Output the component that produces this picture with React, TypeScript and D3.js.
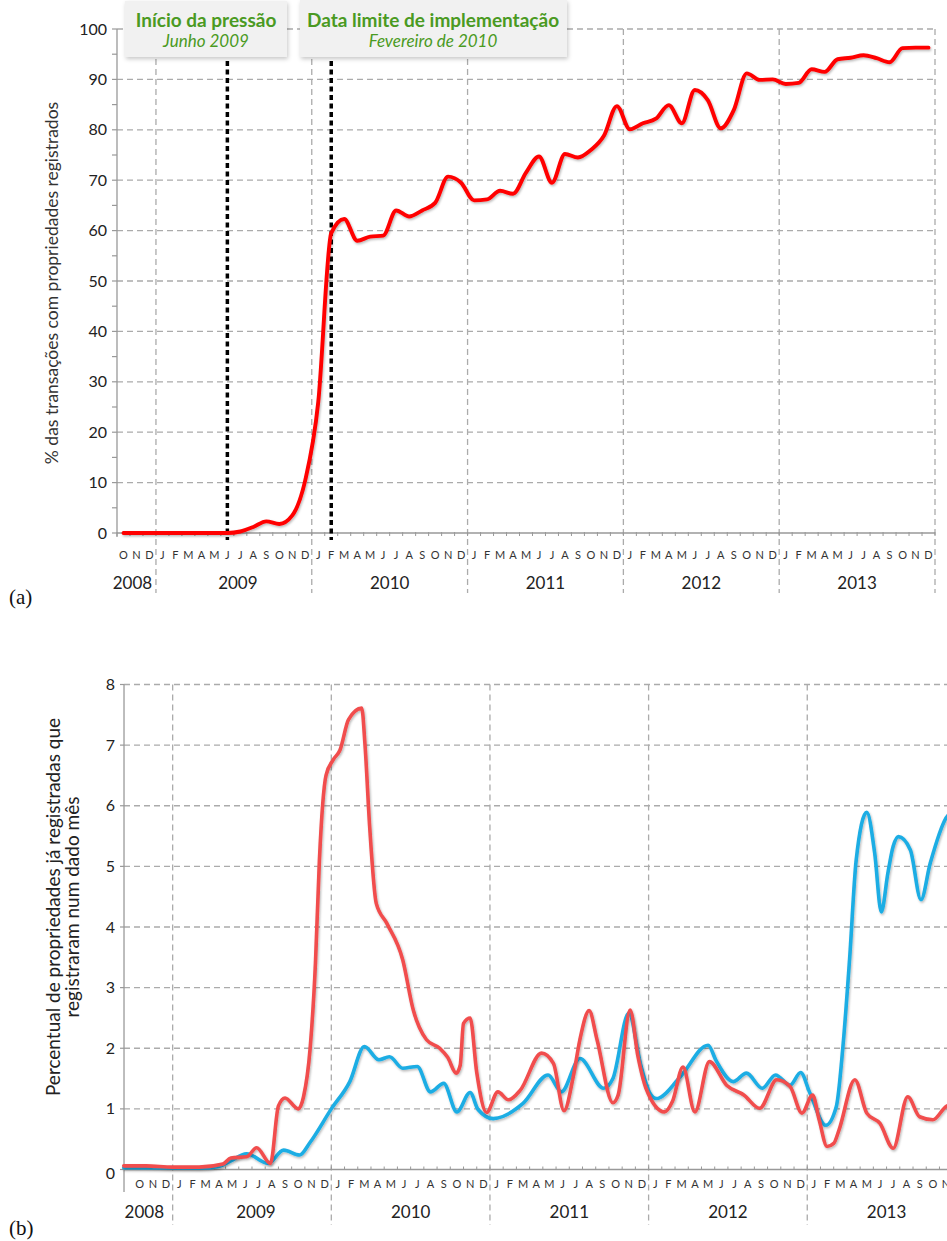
import React from 'react';
import * as d3 from 'd3';

// ---------- shared labels ----------
const monthLetters = ['J', 'F', 'M', 'A', 'M', 'J', 'J', 'A', 'S', 'O', 'N', 'D'];
const yearLabels = ['2008', '2009', '2010', '2011', '2012', '2013'];
// months since 1 Oct 2008 where each year starts / ends
const yearStarts = [0, 3, 15, 27, 39, 51];
const yearEnds = [3, 15, 27, 39, 51, 63];
const monthCount = 63;

// ---------- chart (a) ----------
const topTicks = [0, 10, 20, 30, 40, 50, 60, 70, 80, 90, 100];
// monthly, Oct 2008 .. Dec 2013
const topValues = [
  0, 0, 0,
  0, 0, 0, 0, 0, 0, 0.3, 1.2, 2.3, 1.8, 3.5, 10.5,
  26, 59.5, 62.3, 58, 58.8, 59, 64, 62.8, 64, 65.5, 70.7, 69.5,
  66, 66.2, 67.9, 67.3, 71.5, 74.7, 69.5, 75.2, 74.5, 76, 78.8, 84.7,
  80.1, 81.3, 82.2, 84.9, 81.3, 87.9, 85.9, 80.3, 83.9, 91.2, 89.9, 90,
  89.1, 89.3, 92, 91.5, 94, 94.3, 94.8, 94.2, 93.4, 96.2, 96.3, 96.3,
];
const markerTitles = ['Início da pressão', 'Data limite de implementação'];
const markerSubs = ['Junho 2009', 'Fevereiro de 2010'];
const markerMonths = [8, 16];

// ---------- chart (b) ----------
const botTicks = [0, 1, 2, 3, 4, 5, 6, 7, 8];
const redT = [
  -0.7, 1, 3, 5, 6.8, 7.4, 8.6, 9.35, 10.4, 11, 11.5, 12.5, 12.9, 13.4, 13.8, 14.1, 14.6,
  15.15, 15.66, 16.3, 17.3, 17.55, 17.9, 18.4, 19.2, 20.4, 21.2, 22.2, 23.2, 23.8, 24.45,
  24.75, 25, 25.5, 26, 26.75, 27.6, 28.4, 29.3, 30.9, 31.8, 32.6, 33.3, 33.8, 34.5, 35.1,
  36.3, 36.7, 37.6, 38.2, 38.8, 40.2, 40.8, 41.6, 42.5, 43.6, 44.9, 46.2, 47.4, 48.7, 49.7,
  50.6, 51.4, 51.9, 52.5, 53, 53.4, 54.6, 55.5, 56.5, 57.5, 58.6, 59.5, 60.5, 61.5, 62.3,
];
const redV = [
  0.06, 0.06, 0.04, 0.04, 0.09, 0.19, 0.21, 0.36, 0.1, 1.05, 1.18, 1.0, 1.2, 2.0, 3.4, 5.1, 6.5,
  6.76, 6.92, 7.42, 7.61, 7.0, 5.66, 4.39, 4.06, 3.46, 2.63, 2.14, 2.0, 1.85, 1.59,
  1.72, 2.41, 2.5, 1.6, 0.94, 1.28, 1.15, 1.31, 1.92, 1.75, 0.97, 1.53, 2.14, 2.62, 2.14,
  1.1, 1.23, 2.63, 1.86, 1.34, 0.95, 1.12, 1.69, 0.95, 1.78, 1.39, 1.23, 1.01, 1.48, 1.37,
  0.93, 1.23, 0.82, 0.38, 0.43, 0.65, 1.48, 0.93, 0.76, 0.35, 1.2, 0.87, 0.82, 1.04, 1.1,
];
const blueT = [
  -0.7, 5, 6.5, 7.3, 8.6, 10.2, 11.4, 12.6, 13.4, 15, 16.4, 17.5, 18.6, 19.4, 20.4, 21.5,
  22.5, 23.5, 24.5, 25.5, 26.1, 27.25, 29.5, 31.4, 32.4, 33.8, 35.6, 36.3, 37.5, 38.4, 39.1,
  39.6, 41.4, 43.5, 44.1, 45.4, 46.4, 47.6, 48.6, 49.7, 50.5, 51.2, 52.4, 53.2, 53.7, 54.2,
  54.7, 55.5, 56.1, 56.6, 57.1, 57.5, 57.9, 58.8, 59.6, 60.3, 61.5, 62.3,
];
const blueV = [
  0.03, 0.02, 0.05, 0.13, 0.26, 0.1, 0.32, 0.24, 0.45, 1.0, 1.45, 2.03, 1.81, 1.86, 1.67, 1.7,
  1.28, 1.42, 0.95, 1.27, 0.99, 0.84, 1.09, 1.56, 1.28, 1.83, 1.34, 1.5, 2.58, 1.73, 1.26,
  1.17, 1.53, 2.05, 1.8, 1.45, 1.59, 1.34, 1.56, 1.39, 1.6, 1.26, 0.73, 1.04, 2.03, 3.46,
  5.1, 5.89, 5.22, 4.25, 4.89, 5.33, 5.49, 5.27, 4.45, 5.05, 5.8, 5.95,
];

const FONT = "Lato, 'Open Sans', sans-serif";
const GRID = '#ababab';
const GREEN = '#4a9a22';

export default function App() {
  const W = 947;
  const H = 1241;

  const xTop = d3.scaleLinear().domain([0, monthCount]).range([117, 935]);
  const yTop = d3.scaleLinear().domain([0, 100]).range([533, 29]);
  const xBot = d3.scaleLinear().domain([0, monthCount]).range([133, 965.9]);
  const yBot = d3.scaleLinear().domain([0, 8]).range([1169.5, 684.5]);

  const topLine = d3
    .line<number>()
    .x((_, i) => xTop(i + 0.5))
    .y((d) => yTop(d))
    .curve(d3.curveMonotoneX);

  const botLine = d3
    .line<[number, number]>()
    .x((d) => xBot(d[0]))
    .y((d) => yBot(d[1]))
    .curve(d3.curveMonotoneX);

  const redPts: [number, number][] = redT.map((t, i) => [t, redV[i]]);
  const bluePts: [number, number][] = blueT.map((t, i) => [t, blueV[i]]);

  const months = d3.range(monthCount);
  const boundaries = d3.range(monthCount + 1);
  const minorTop = d3.range(0, 101, 5);

  const topAxisX = xTop(0);
  const botAxisX = xBot(-0.68);

  const yearCenter = (sc: d3.ScaleLinear<number, number>, i: number, axisX: number) => {
    const a = i === 0 ? axisX : sc(yearStarts[i]);
    const b = sc(yearEnds[i]);
    return (a + b) / 2 + (i === 0 ? -4 : i === 1 ? 4 : 0);
  };

  return (
    <svg
      width={W}
      height={H}
      style={{ position: 'absolute', left: 0, top: 0, background: '#fff' }}
      fontFamily={FONT}
    >
      <defs>
        <filter id="lineShadow" x="-5%" y="-5%" width="110%" height="110%">
          <feDropShadow dx="1" dy="1.5" stdDeviation="1.3" floodColor="#000" floodOpacity="0.28" />
        </filter>
        <filter id="boxShadow" x="-10%" y="-20%" width="120%" height="150%">
          <feDropShadow dx="1" dy="2" stdDeviation="2" floodColor="#000" floodOpacity="0.22" />
        </filter>
        <clipPath id="clipAll">
          <rect x={0} y={0} width={W} height={H} />
        </clipPath>
      </defs>

      {/* ================= chart (a) ================= */}
      <g>
        {topTicks.filter((t) => t > 0).map((t) => (
          <line key={'tg' + t} x1={topAxisX} x2={xTop(monthCount)} y1={yTop(t)} y2={yTop(t)}
            stroke={GRID} strokeWidth={1.3} strokeDasharray="6 4" />
        ))}
        {yearEnds.map((m) => (
          <line key={'tv' + m} x1={xTop(m)} x2={xTop(m)} y1={yTop(100)} y2={593}
            stroke={GRID} strokeWidth={1.3} strokeDasharray="6 4" />
        ))}
        <line x1={topAxisX} x2={topAxisX} y1={yTop(100)} y2={yTop(0) + 4} stroke="#999" strokeWidth={1.3} />
        <line x1={topAxisX} x2={xTop(monthCount)} y1={yTop(0)} y2={yTop(0)} stroke="#999" strokeWidth={1.3} />
        {minorTop.map((t) => (
          <line key={'tm' + t} x1={topAxisX - 5} x2={topAxisX} y1={yTop(t)} y2={yTop(t)} stroke="#999" strokeWidth={1.2} />
        ))}
        {boundaries.map((m) => (
          <line key={'tb' + m} x1={xTop(m)} x2={xTop(m)} y1={yTop(0) - 1} y2={yTop(0) + 3} stroke="#999" strokeWidth={1} />
        ))}
        {topTicks.map((t) => (
          <text key={'tl' + t} x={topAxisX - 10} y={yTop(t)} dy="0.35em" textAnchor="end"
            fontSize={16} fill="#222">{t}</text>
        ))}
        {months.map((m) => (
          <text key={'tmo' + m} x={xTop(m + 0.5)} y={555} dy="0.35em" textAnchor="middle"
            fontSize={11} fill="#333">{monthLetters[(m + 9) % 12]}</text>
        ))}
        {yearLabels.map((y, i) => (
          <text key={'ty' + y} x={yearCenter(xTop, i, topAxisX)} y={583} dy="0.35em" textAnchor="middle"
            fontSize={17} fill="#222">{y}</text>
        ))}
        <text transform={`translate(52,283) rotate(-90)`} textAnchor="middle" dy="0.35em"
          fontSize={17.5} fill="#333">% das transações com propriedades registrados</text>

        {markerMonths.map((m) => (
          <line key={'mk' + m} x1={xTop(m + 0.5)} x2={xTop(m + 0.5)} y1={61} y2={540}
            stroke="#000" strokeWidth={3.5} strokeDasharray="5 3.5" />
        ))}

        <path d={topLine(topValues) || ''} fill="none" stroke="#ff0000" strokeWidth={3.9}
          strokeLinejoin="round" strokeLinecap="round" filter="url(#lineShadow)" />

        <rect x={125} y={1} width={162} height={56} fill="#f1f1f1" filter="url(#boxShadow)" />
        <text x={206} y={27} textAnchor="middle" fontSize={19} fontWeight="bold" fill={GREEN}>{markerTitles[0]}</text>
        <text x={206} y={47} textAnchor="middle" fontSize={17} fontStyle="italic" fill={GREEN}>{markerSubs[0]}</text>
        <rect x={300} y={0} width={267} height={57} fill="#f1f1f1" filter="url(#boxShadow)" />
        <text x={433} y={27} textAnchor="middle" fontSize={19} fontWeight="bold" fill={GREEN}>{markerTitles[1]}</text>
        <text x={433} y={47} textAnchor="middle" fontSize={17} fontStyle="italic" fill={GREEN}>{markerSubs[1]}</text>

        <text x={9} y={604} fontFamily="'Liberation Serif', 'DejaVu Serif', serif" fontSize={21} fill="#111">(a)</text>
      </g>

      {/* ================= chart (b) ================= */}
      <g clipPath="url(#clipAll)">
        {botTicks.filter((t) => t > 0).map((t) => (
          <line key={'bg' + t} x1={botAxisX} x2={xBot(monthCount)} y1={yBot(t)} y2={yBot(t)}
            stroke={GRID} strokeWidth={1.3} strokeDasharray="6 4" />
        ))}
        {yearEnds.map((m) => (
          <line key={'bv' + m} x1={xBot(m)} x2={xBot(m)} y1={yBot(8)} y2={1225}
            stroke={GRID} strokeWidth={1.3} strokeDasharray="6 4" />
        ))}
        <line x1={botAxisX} x2={botAxisX} y1={yBot(8)} y2={1192} stroke="#999" strokeWidth={1.3} />
        <line x1={botAxisX} x2={xBot(monthCount)} y1={yBot(0)} y2={yBot(0)} stroke="#999" strokeWidth={1.3} />
        {botTicks.map((t) => (
          <line key={'bt' + t} x1={botAxisX - 4} x2={botAxisX} y1={yBot(t)} y2={yBot(t)} stroke="#999" strokeWidth={1.2} />
        ))}
        {boundaries.map((m) => (
          <line key={'bb' + m} x1={xBot(m)} x2={xBot(m)} y1={yBot(0) - 3} y2={yBot(0)} stroke="#999" strokeWidth={1} />
        ))}
        {botTicks.map((t) => (
          <text key={'bl' + t} x={botAxisX - 9} y={yBot(t) + (t === 0 ? 4 : 0)} dy="0.35em" textAnchor="end"
            fontSize={16} fill="#222">{t}</text>
        ))}
        {months.map((m) => (
          <text key={'bmo' + m} x={xBot(m + 0.5)} y={1184} dy="0.35em" textAnchor="middle"
            fontSize={11} fill="#333">{monthLetters[(m + 9) % 12]}</text>
        ))}
        {yearLabels.map((y, i) => (
          <text key={'by' + y} x={yearCenter(xBot, i, botAxisX)} y={1212} dy="0.35em" textAnchor="middle"
            fontSize={17} fill="#222">{y}</text>
        ))}
        <text transform={`translate(53,907) rotate(-90)`} textAnchor="middle" dy="0.35em"
          fontSize={19} fill="#222">Percentual de propriedades já registradas que</text>
        <text transform={`translate(72,907) rotate(-90)`} textAnchor="middle" dy="0.35em"
          fontSize={19} fill="#222">registraram num dado mês</text>

        <path d={botLine(bluePts) || ''} fill="none" stroke="#1cade4" strokeWidth={3.6}
          strokeLinejoin="round" strokeLinecap="round" filter="url(#lineShadow)" />
        <path d={botLine(redPts) || ''} fill="none" stroke="#f14d4d" strokeWidth={3.6}
          strokeLinejoin="round" strokeLinecap="round" filter="url(#lineShadow)" />

        <text x={9} y={1235} fontFamily="'Liberation Serif', 'DejaVu Serif', serif" fontSize={21} fill="#111">(b)</text>
      </g>
    </svg>
  );
}
